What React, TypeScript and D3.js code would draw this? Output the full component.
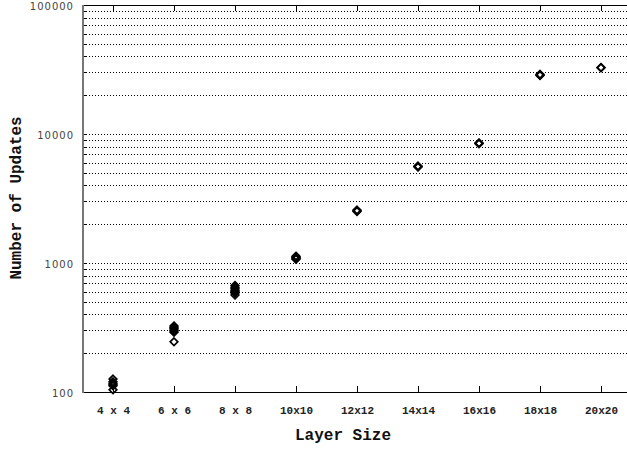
import React from "react";
import * as d3 from "d3";

const layerSizes = [4, 6, 8, 10, 12, 14, 16, 18, 20];
const tickLabels = ["4 x 4", "6 x 6", "8 x 8", "10x10", "12x12", "14x14", "16x16", "18x18", "20x20"];
const updates4 = [126, 120, 117, 114, 112, 104];
const updates6 = [325, 318, 310, 303, 297, 291, 245];
const updates8 = [670, 650, 632, 616, 600, 585, 565];
const updates10 = [1130, 1112, 1096, 1082, 1070];
const updates12 = [2570, 2540, 2510];
const updates14 = [5640, 5590, 5540];
const updates16 = [8520, 8460, 8400];
const updates18 = [29000, 28700, 28400];
const updates20 = [32800, 32600];
const yTickValues = [100, 1000, 10000, 100000];

const seriesBySize = [updates4, updates6, updates8, updates10, updates12, updates14, updates16, updates18, updates20];

const W = 627;
const H = 450;

export default function App() {
  const x = d3.scaleLinear().domain([3, 21]).range([82.5, 631.5]);
  const y = d3.scaleLog().domain([100, 100000]).range([392, 5]);
  const left = 83;
  const right = W;
  const gridVals: number[] = [];
  for (const d of [100, 1000, 10000]) {
    for (let k = 1; k <= 9; k++) gridVals.push(k * d);
  }
  gridVals.push(100000);
  const points: { s: number; v: number }[] = [];
  layerSizes.forEach((s, i) => seriesBySize[i].forEach((v) => points.push({ s, v })));
  const r = 3.8;
  const diamond = (cx: number, cy: number) => `M${cx},${cy - r}L${cx + r},${cy}L${cx},${cy + r}L${cx - r},${cy}Z`;
  const mono = "'Liberation Mono', 'Courier New', monospace";
  return (
    <svg width={W} height={H} style={{ position: "absolute", left: 0, top: 0, background: "#fff" }}>
      {gridVals.map((v) => {
        const yy = Math.round(y(v)) + 0.5;
        return (
          <g key={"g" + v}>
            <line x1={left} x2={right} y1={yy} y2={yy} stroke="#000" strokeWidth={1} strokeDasharray="1,2" shapeRendering="crispEdges" />
            <line x1={left} x2={left + 4} y1={yy} y2={yy} stroke="#000" strokeWidth={1} shapeRendering="crispEdges" />
          </g>
        );
      })}
      <line x1={left} x2={right} y1={5.5} y2={5.5} stroke="#000" strokeWidth={1} shapeRendering="crispEdges" />
      <line x1={left} x2={right} y1={392.5} y2={392.5} stroke="#000" strokeWidth={1} shapeRendering="crispEdges" />
      <line x1={83} x2={83} y1={5} y2={393} stroke="#777" strokeWidth={2} shapeRendering="crispEdges" />
      {layerSizes.map((s, i) => {
        const xx = Math.round(x(s)) + 0.5;
        return (
          <g key={"t" + s}>
            <line x1={xx} x2={xx} y1={392} y2={386} stroke="#000" shapeRendering="crispEdges" />
            <line x1={xx} x2={xx} y1={5} y2={11} stroke="#000" shapeRendering="crispEdges" />
            <text x={xx} y={414} textAnchor="middle" fontFamily={mono} fontWeight="bold" fontSize={11} fill="#222">
              {tickLabels[i]}
            </text>
          </g>
        );
      })}
      {yTickValues.map((v) => (
        <text key={"y" + v} x={74} y={y(v) + 4.5} textAnchor="end" fontFamily="'DejaVu Sans', sans-serif" fontSize={10} letterSpacing={1} fill="#444">
          {v}
        </text>
      ))}
      {points.map((p, i) => (
        <path key={"p" + i} d={diamond(x(p.s), y(p.v))} fill="none" stroke="#000" strokeWidth={1.7} />
      ))}
      <text x={343} y={440} textAnchor="middle" fontFamily={mono} fontWeight="bold" fontSize={16} fill="#111">
        Layer Size
      </text>
      <text transform={`translate(21,198) rotate(-90)`} textAnchor="middle" fontFamily={mono} fontWeight="bold" fontSize={16} fill="#111">
        Number of Updates
      </text>
    </svg>
  );
}
